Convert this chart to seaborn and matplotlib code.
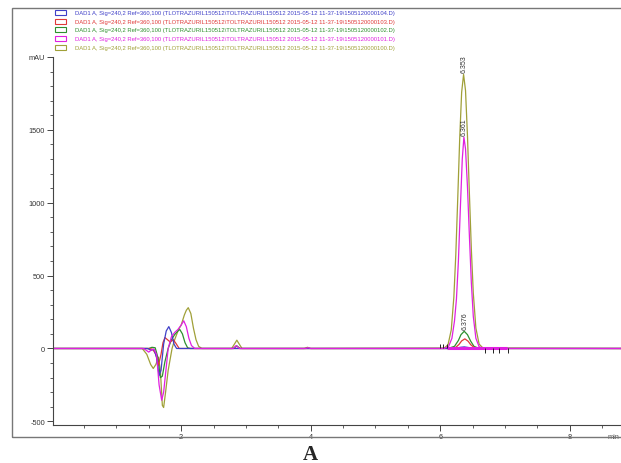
import numpy as np
import pandas as pd
import matplotlib
matplotlib.use("Agg")
import matplotlib.pyplot as plt
from matplotlib.patches import Rectangle
import seaborn as sns

# ---- data (time in min, signal in mAU) ----
runs = ['1505120000104', '1505120000103', '1505120000102', '1505120000101', '1505120000100']
colors = ['#4040c8', '#e03838', '#2e902e', '#e020e0', '#a0a038']

t_104 = [0.03, 1.48, 1.54, 1.58, 1.62, 1.66, 1.69, 1.73, 1.77, 1.81, 1.85, 1.89, 1.93,
         6.10, 6.25, 6.31, 6.37, 6.43, 6.50, 6.65, 8.79]
y_104 = [0, 0, -12, -5, -60, -185, -150, 30, 120, 150, 110, 30, 0,
         0, 3, 8, 11, 7, 2, 0, 0]

t_103 = [0.03, 1.50, 1.56, 1.61, 1.65, 1.69, 1.72, 1.75, 1.79, 1.83, 1.88, 1.92, 1.97,
         6.15, 6.24, 6.29, 6.33, 6.38, 6.43, 6.47, 6.52, 6.60, 8.79]
y_103 = [0, 0, -5, -40, -115, -40, 40, 75, 60, 45, 60, 35, 0,
         0, 8, 28, 52, 66, 50, 26, 8, 0, 0]

t_102 = [0.03, 1.50, 1.55, 1.60, 1.64, 1.68, 1.71, 1.75, 1.80, 1.85, 1.90, 1.95, 1.98,
         2.02, 2.06, 2.10, 2.14, 2.81, 2.86, 2.91,
         6.12, 6.22, 6.28, 6.32, 6.37, 6.42, 6.47, 6.52, 6.60, 8.79]
y_102 = [0, 0, 8, 5, -60, -200, -190, -90, 0, 60, 95, 120, 130,
         100, 40, 5, 0, 0, 18, 0,
         0, 15, 55, 95, 118, 95, 50, 15, 0, 0]

t_101 = [0.03, 1.42, 1.47, 1.50, 1.54, 1.58, 1.62, 1.66, 1.70, 1.73, 1.77, 1.80, 1.85,
         1.90, 1.95, 2.00, 2.04, 2.08, 2.12, 2.16, 2.21, 2.80, 2.85, 2.90, 3.92, 3.96, 4.00,
         6.06, 6.13, 6.18, 6.22, 6.25, 6.28, 6.31, 6.34, 6.365, 6.39, 6.42, 6.45,
         6.48, 6.51, 6.55, 6.60, 6.66, 8.79]
y_101 = [0, 0, -15, -25, -10, -5, -40, -250, -355, -300, -130, 0, 80,
         110, 130, 160, 190, 150, 70, 20, 0, 0, 20, 0, 0, 5, 0,
         0, 15, 70, 190, 340, 600, 960, 1300, 1450, 1370, 1110, 770,
         450, 220, 70, 12, 0, 0]

t_100 = [0.03, 1.40, 1.47, 1.53, 1.57, 1.61, 1.65, 1.68, 1.71, 1.73, 1.76, 1.80, 1.86,
         1.90, 1.96, 2.00, 2.05, 2.08, 2.11, 2.15, 2.19, 2.23, 2.27, 2.32,
         2.78, 2.83, 2.86, 2.89, 2.94, 3.90, 3.95, 4.00,
         6.06, 6.12, 6.17, 6.21, 6.24, 6.27, 6.30, 6.33, 6.36, 6.39, 6.42, 6.45,
         6.48, 6.51, 6.55, 6.60, 6.66, 8.79]
y_100 = [0, 0, -40, -110, -137, -110, -60, -150, -390, -405, -300, -150, 0,
         60, 130, 160, 230, 262, 280, 240, 140, 60, 15, 0,
         0, 35, 57, 35, 0, 0, 8, 0,
         2, 26, 128, 353, 645, 1030, 1438, 1757, 1880, 1770, 1460, 1060,
         680, 380, 140, 30, 3, 0]

peak_times = [6.353, 6.361, 6.376]
peak_heights = [1880, 1450, 118]
peak_labels = ['6.353', '6.361', '6.376']

event_up = [6.00, 6.04, 6.10]
event_down = [6.69, 6.82, 6.91, 7.05]
integration_baseline = [6.10, 7.03]

legend_text = 'DAD1 A, Sig=240,2 Ref=360,100 (TLOTRAZURIL150512\\TOLTRAZURIL150512 2015-05-12 11-37-19\\{}.D)'

# ---- build long-form frame ----
series = {runs[0]: (t_104, y_104), runs[1]: (t_103, y_103), runs[2]: (t_102, y_102),
          runs[3]: (t_101, y_101), runs[4]: (t_100, y_100)}
df = pd.concat([pd.DataFrame({'time': t, 'mAU': y, 'run': name}) for name, (t, y) in series.items()],
               ignore_index=True)

sns.set_style("ticks")
plt.rcParams['font.family'] = ['Liberation Sans', 'DejaVu Sans']

W, H = 621, 464
fig = plt.figure(figsize=(W / 100, H / 100), dpi=100)
ax = fig.add_axes([53.5 / W, 1 - 426 / H, 1 - 53.5 / W, 368 / H])

palette = dict(zip(runs, colors))
draw_order = [runs[4], runs[2], runs[1], runs[0], runs[3]]
sns.lineplot(data=df, x='time', y='mAU', hue='run', hue_order=draw_order, palette=palette,
             estimator=None, sort=False, legend=False, linewidth=0.9, ax=ax)

ax.plot(integration_baseline, [0, 0], color=colors[3], linewidth=2.2, solid_capstyle='butt')
ax.vlines(event_up, 0, 30, color='#222222', linewidth=0.7)
ax.vlines(event_down, -30, 0, color='#222222', linewidth=0.7)

for pt, ph, lab in zip(peak_times, peak_heights, peak_labels):
    ax.text(pt + 0.008, ph + 15, lab, rotation=90, ha='center', va='bottom', fontsize=5, color='#333333')

ax.set_xlim(0.03, 8.79)
ax.set_ylim(-525, 2000)
ax.set_xticks([2, 4, 6, 8])
ax.set_xticks(np.arange(0.5, 8.6, 0.5), minor=True)
ax.set_yticks([-500, 0, 500, 1000, 1500, 2000])
ax.set_yticklabels(['-500', '0', '500', '1000', '1500', 'mAU'])
ax.set_yticks(np.arange(-500, 2000, 100), minor=True)
ax.tick_params(axis='both', which='major', labelsize=5.3, colors='#444444', labelcolor='#333333',
               length=4, width=0.7, direction='out', pad=2, bottom=True, left=True)
ax.tick_params(axis='both', which='minor', colors='#444444', length=2.5, width=0.6, direction='out',
               bottom=True, left=True)
ax.set_xlabel('')
ax.set_ylabel('')
for side in ['top', 'right']:
    ax.spines[side].set_visible(False)
for side in ['left', 'bottom']:
    ax.spines[side].set_color('#444444')
    ax.spines[side].set_linewidth(0.8)
ax.text(0.998, -0.03, 'min', transform=ax.transAxes, ha='right', va='center', fontsize=5.3, color='#555555')

# outer frame
fig.patches.append(Rectangle((12 / W, 1 - 438 / H), 1.2, (438 - 9) / H, transform=fig.transFigure,
                             fill=False, edgecolor='#777777', linewidth=1.0))

# legend rows
for i, (name, c) in enumerate(zip(runs, colors)):
    yc = 13.3 + 8.75 * i
    fig.patches.append(Rectangle((55 / W, 1 - (yc + 2.5) / H), 11 / W, 5 / H, transform=fig.transFigure,
                                 fill=False, edgecolor=c, linewidth=0.8))
    fig.text(75 / W, 1 - yc / H, legend_text.format(name), fontsize=4.25, color=c, ha='left', va='center')

fig.text(0.5, 1 - 455 / H, 'A', fontsize=15, fontweight='bold', family='Liberation Serif',
         ha='center', va='center')

fig.savefig('out.png', dpi=100)
